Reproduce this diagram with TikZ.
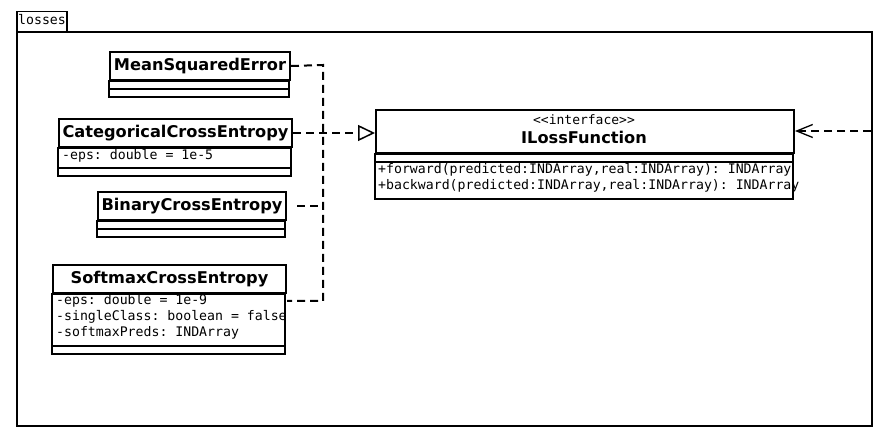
\documentclass[tikz,border=0pt]{standalone}
\usepackage{fontspec}
\setmainfont{DejaVu Sans}
\setmonofont{DejaVu Sans Mono}
\usetikzlibrary{arrows.meta}
\tikzset{
	umlline/.style={line width=2pt},
	classtitle/.style={draw,umlline,anchor=north west,inner sep=0pt,font=\bfseries\fontsize{16.2}{19}\selectfont},
	attr/.style={anchor=base west,inner sep=0pt,font=\ttfamily\fontsize{13.2}{16}\selectfont},
	stereo/.style={anchor=base,inner sep=0pt,font=\ttfamily\fontsize{13}{16}\selectfont},
	dep/.style={umlline,dash pattern=on 8pt off 5pt},
}
\begin{document}
\begin{tikzpicture}[x=1pt,y=-1pt]
		\useasboundingbox (0,0) rectangle (879,438);
		% package
		\node[draw,line width=1.5pt,anchor=north west,minimum width=50pt,minimum height=20pt] (tab) at (16,11) {};
		\node[attr] (tabtext) at (18,25) {losses};
		\node[draw,umlline,anchor=north west,minimum width=855pt,minimum height=394pt] (pkg) at (16,31) {};
		% MeanSquaredError
		\node[classtitle,minimum width=180pt,minimum height=28pt] (mse) at (109,51) {MeanSquaredError};
		\draw[umlline] (mse.south west) rectangle ++(180,8) rectangle ++(-180,8);
		% CategoricalCrossEntropy
		\node[classtitle,minimum width=233pt,minimum height=28pt] (cce) at (58,118) {CategoricalCrossEntropy};
		\draw[umlline] (cce.south west) rectangle ++(233,20) rectangle ++(-233,8);
		\node[attr] at (62,160) {-eps: double = 1e-5};
		% BinaryCrossEntropy
		\node[classtitle,minimum width=188pt,minimum height=28pt] (bce) at (97,191) {BinaryCrossEntropy};
		\draw[umlline] (bce.south west) rectangle ++(188,8) rectangle ++(-188,8);
		% SoftmaxCrossEntropy
		\node[classtitle,minimum width=233pt,minimum height=28pt] (sce) at (52,264) {SoftmaxCrossEntropy};
		\draw[umlline] (sce.south west) rectangle ++(233,52) rectangle ++(-233,8);
		\node[attr] at (56,305) {-eps: double = 1e-9};
		\node[attr] at (56,321) {-singleClass: boolean = false};
		\node[attr] at (56,337) {-softmaxPreds: INDArray};
		% ILossFunction
		\node[classtitle,minimum width=418pt,minimum height=43pt] (ilf) at (375,109) {};
		\node[stereo] at (584,125) {<<interface>>};
		\node[anchor=base,inner sep=0pt,font=\bfseries\fontsize{16.2}{19}\selectfont] at (584,144) {ILossFunction};
		\draw[umlline] (ilf.south west) rectangle ++(418,8) rectangle ++(-418,37);
		\node[attr] at (378,174) {+forward(predicted:INDArray,real:INDArray): INDArray};
		\node[attr] at (378,190) {+backward(predicted:INDArray,real:INDArray): INDArray};
		% realizations
		\coordinate (bustop) at (323,65);
		\coordinate (busbot) at (323,301);
		\draw[dep] (mse.east) -- (bustop) -- (busbot) -- (busbot -| sce.east);
		\draw[dep] ([xshift=10pt]bce.east) -- (bce.east -| bustop);
		\draw[dep,-{Triangle[open,length=17pt,width=16pt,line width=1.5pt]}] (cce.east) -- (cce.east -| ilf.west);
		\coordinate (ext) at (871,131);
		\draw[dep,-{Straight Barb[length=16pt,width=13pt,line width=1.3pt]}] (ext) -- (ext -| ilf.east);
\end{tikzpicture}
\end{document}
